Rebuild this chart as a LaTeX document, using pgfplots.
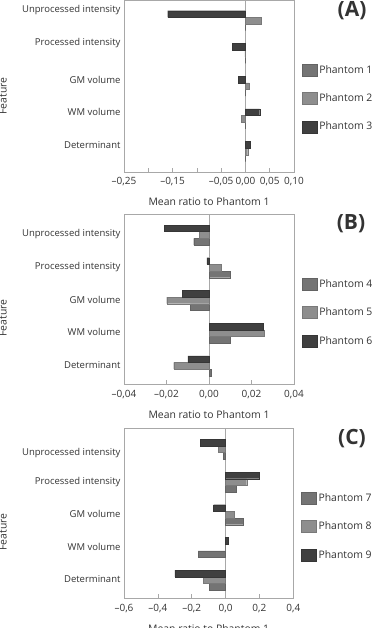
\documentclass[border=0pt]{standalone}
\usepackage{fontspec}
\setmainfont{Open Sans}
\usepackage{pgfplots}
\pgfplotsset{compat=1.18}
\definecolor{cone}{HTML}{747474}
\definecolor{ctwo}{HTML}{8E8E8E}
\definecolor{cthree}{HTML}{404040}
\definecolor{axgray}{HTML}{A8A8A8}
\definecolor{txtgray}{HTML}{333333}
\pgfplotsset{
  panel/.style={
    scale only axis, xbar, bar width=0.204, bar shift=0pt,
    y dir=reverse, scaled x ticks=false,
    axis line style={axgray, line width=0.6pt},
    tick align=inside, xtick pos=lower, ytick pos=left,
    major tick length=4pt,
    x tick style={axgray, line width=0.6pt},
    y tick style={draw=none},
    xticklabel style={font=\fontsize{10}{12}\selectfont, text=txtgray, yshift=-2pt},
    yticklabel style={font=\fontsize{9.5}{11}\selectfont, text=txtgray},
    extra x ticks={0}, extra x tick labels={},
    extra x tick style={grid=major, major grid style={axgray, line width=0.7pt}},
    xlabel={Mean ratio to Phantom 1},
    x label style={at={(axis description cs:0.5,0)}, anchor=center, yshift=-30pt,
      font=\fontsize{10.4}{12}\selectfont, text=txtgray},
    legend style={at={(axis description cs:1,1)}, anchor=north west,
      xshift=7.7pt, yshift=-63pt, draw=none, fill=none, inner sep=0pt,
      font=\fontsize{10.4}{12}\selectfont, text=txtgray, row sep=15pt,
      cells={anchor=west}},
    legend image code/.code={\draw[##1] (0pt,-6pt) rectangle (15pt,6pt);},
    yticklabels={Unprocessed intensity, Processed intensity, GM volume, WM volume, Determinant},
  },
  s1/.style={fill=cone, draw=cone!85!black, line width=0.4pt},
  s2/.style={fill=ctwo, draw=ctwo!85!black, line width=0.4pt},
  s3/.style={fill=cthree, draw=cthree!85!black, line width=0.4pt},
}
\begin{document}
\begin{tikzpicture}
\useasboundingbox (0pt,0pt) rectangle (387pt,-628pt);
% ---------------- (A)
\begin{axis}[panel, at={(124pt,0pt)}, anchor=north west,
  width=170pt, height=172pt,
  xmin=-0.25, xmax=0.10, ymin=-0.43, ymax=4.83,
  xtick={-0.25,-0.20,-0.15,-0.10,-0.05,0,0.05,0.10},
  xticklabels={{–0,25},{},{–0,15},{},{–0,05},{0,00},{0,05},{0,10}},
  ytick={-0.12,0.89,2.02,3.0,4.01}]
\addplot[s1] coordinates {(0,0.408) (0,1.408) (0,2.408) (0,3.408) (0,4.408)};
\addplot[s2] coordinates {(0.033,0.204) (-0.001,1.204) (0.008,2.204) (-0.0089,3.204) (0.0047,4.204)};
\addplot[s3] coordinates {(-0.160,0) (-0.0274,1) (-0.0144,2) (0.0294,3) (0.0103,4)};
\legend{Phantom 1, Phantom 2, Phantom 3}
\end{axis}
% ---------------- (B)
\begin{axis}[panel, at={(124pt,-214.3pt)}, anchor=north west,
  width=170pt, height=170pt,
  xmin=-0.04, xmax=0.04, ymin=-0.43, ymax=4.77,
  xtick={-0.04,-0.02,0,0.02,0.04},
  xticklabels={{–0,04},{–0,02},{0,00},{0,02},{0,04}},
  ytick={0.18,1.18,2.18,3.18,4.18}]
\addplot[s1] coordinates {(-0.0072,0.408) (0.0099,1.408) (-0.0088,2.408) (0.0101,3.408) (0.001,4.408)};
\addplot[s2] coordinates {(-0.0047,0.204) (0.0057,1.204) (-0.0199,2.204) (0.026,3.204) (-0.0166,4.204)};
\addplot[s3] coordinates {(-0.0211,0) (-0.001,1) (-0.0124,2) (0.0255,3) (-0.0099,4)};
\legend{Phantom 4, Phantom 5, Phantom 6}
\end{axis}
% ---------------- (C)
\begin{axis}[panel, at={(124pt,-428.3pt)}, anchor=north west,
  width=169.3pt, height=170pt,
  xmin=-0.6, xmax=0.4, ymin=-0.44, ymax=4.76,
  xtick={-0.6,-0.4,-0.2,0,0.2,0.4},
  xticklabels={{–0,6},{–0,4},{–0,2},{0,0},{0,2},{0,4}},
  ytick={0.32,1.2,2.18,3.19,4.18}]
\addplot[s1] coordinates {(-0.014,0.408) (0.061,1.408) (0.106,2.408) (-0.162,3.408) (-0.097,4.408)};
\addplot[s2] coordinates {(-0.041,0.204) (0.125,1.204) (0.049,2.204) (0,3.204) (-0.132,4.204)};
\addplot[s3] coordinates {(-0.147,0) (0.196,1) (-0.071,2) (0.016,3) (-0.300,4)};
\legend{Phantom 7, Phantom 8, Phantom 9}
\end{axis}
% panel letters and axis titles
\node[font=\fontsize{21}{24}\selectfont\bfseries, text=txtgray] at (352pt,-11pt) {(A)};
\node[font=\fontsize{21}{24}\selectfont\bfseries, text=txtgray] at (351pt,-224pt) {(B)};
\node[font=\fontsize{21}{24}\selectfont\bfseries, text=txtgray] at (352pt,-439pt) {(C)};
\node[rotate=90, font=\fontsize{10.4}{12}\selectfont, text=txtgray] at (3pt,-96pt) {Feature};
\node[rotate=90, font=\fontsize{10.4}{12}\selectfont, text=txtgray] at (3pt,-318pt) {Feature};
\node[rotate=90, font=\fontsize{10.4}{12}\selectfont, text=txtgray] at (3pt,-532pt) {Feature};
\end{tikzpicture}
\end{document}
